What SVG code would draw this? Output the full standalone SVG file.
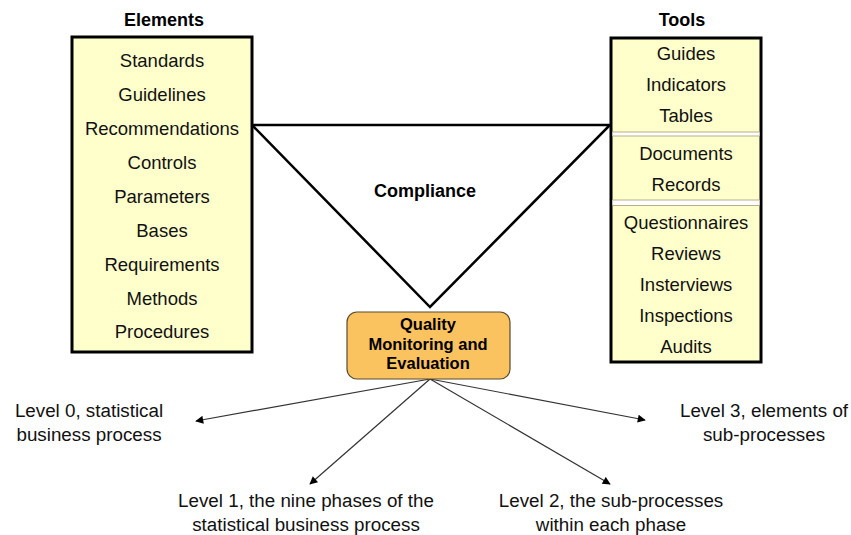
<svg xmlns="http://www.w3.org/2000/svg" width="851" height="535" viewBox="0 0 851 535">
<style>
.box{fill:#FFFFCC;stroke:#000;stroke-width:3}
.t{font-family:"Liberation Sans",Arial,sans-serif;font-size:18.5px;fill:#111;text-anchor:middle}
.h{font-family:"Liberation Sans",Arial,sans-serif;font-size:18px;font-weight:bold;fill:#000;text-anchor:middle}
.q{font-family:"Liberation Sans",Arial,sans-serif;font-size:16.5px;font-weight:bold;fill:#000;text-anchor:middle}
.lv{font-family:"Liberation Sans",Arial,sans-serif;font-size:18.8px;fill:#111;text-anchor:middle}
.sep{stroke:#B8B08A;stroke-width:1.2}
.arr{stroke:#333;stroke-width:1.2;fill:none;marker-end:url(#ah)}
</style>
<defs>
<marker id="ah" viewBox="0 0 10 10" refX="9" refY="5" markerWidth="10" markerHeight="8" markerUnits="userSpaceOnUse" orient="auto">
<path d="M0,0 L10,5 L0,10 z" fill="#000"/>
</marker>
</defs>
<rect width="851" height="535" fill="#fff"/>

<g id="connectors">
<path d="M252,125 L610,125 L430,307 Z" fill="none" stroke="#000" stroke-width="2.5" stroke-linejoin="miter"/>
<line class="arr" x1="430" y1="379" x2="196" y2="421"/>
<line class="arr" x1="430" y1="379" x2="310" y2="484"/>
<line class="arr" x1="430" y1="379" x2="610" y2="484"/>
<line class="arr" x1="430" y1="379" x2="645" y2="420"/>
</g>

<g id="compliance">
<text class="h" x="425" y="197">Compliance</text>
</g>

<g id="elements">
<text class="h" x="164" y="26">Elements</text>
<rect class="box" x="72" y="37" width="180" height="315"/>
<text class="t" x="162" y="67">Standards</text>
<text class="t" x="162" y="101">Guidelines</text>
<text class="t" x="162" y="135">Recommendations</text>
<text class="t" x="162" y="168.5">Controls</text>
<text class="t" x="162" y="203">Parameters</text>
<text class="t" x="162" y="236.5">Bases</text>
<text class="t" x="162" y="271">Requirements</text>
<text class="t" x="162" y="304.5">Methods</text>
<text class="t" x="162" y="338">Procedures</text>
</g>

<g id="tools">
<text class="h" x="682" y="26">Tools</text>
<rect class="box" x="611" y="38" width="150" height="324"/>
<rect x="612.5" y="132" width="147" height="4" fill="#fff"/>
<line class="sep" x1="612.5" y1="132" x2="759.5" y2="132"/>
<line class="sep" x1="612.5" y1="136" x2="759.5" y2="136"/>
<rect x="612.5" y="200" width="147" height="5" fill="#fff"/>
<line class="sep" x1="612.5" y1="200" x2="759.5" y2="200"/>
<line class="sep" x1="612.5" y1="205.5" x2="759.5" y2="205.5"/>
<text class="t" x="686" y="59.5">Guides</text>
<text class="t" x="686" y="90.5">Indicators</text>
<text class="t" x="686" y="121.5">Tables</text>
<text class="t" x="686" y="159.5">Documents</text>
<text class="t" x="686" y="190.5">Records</text>
<text class="t" x="686" y="228.5">Questionnaires</text>
<text class="t" x="686" y="259.5">Reviews</text>
<text class="t" x="686" y="290.5">Insterviews</text>
<text class="t" x="686" y="321.5">Inspections</text>
<text class="t" x="686" y="352.5">Audits</text>
</g>

<g id="quality">
<rect x="347" y="312" width="163" height="67" rx="10" ry="10" fill="#FAC35F" stroke="#5A4A30" stroke-width="1.2"/>
<text class="q" x="428" y="330">Quality</text>
<text class="q" x="428" y="349.5">Monitoring and</text>
<text class="q" x="428" y="369">Evaluation</text>
</g>

<g id="level0">
<text class="lv" x="89" y="417">Level 0, statistical</text>
<text class="lv" x="89" y="441">business process</text>
</g>
<g id="level1">
<text class="lv" x="306" y="507">Level 1, the nine phases of the</text>
<text class="lv" x="306" y="531">statistical business process</text>
</g>
<g id="level2">
<text class="lv" x="611" y="507">Level 2, the sub-processes</text>
<text class="lv" x="611" y="531">within each phase</text>
</g>
<g id="level3">
<text class="lv" x="764" y="417">Level 3, elements of</text>
<text class="lv" x="764" y="441">sub-processes</text>
</g>
</svg>
